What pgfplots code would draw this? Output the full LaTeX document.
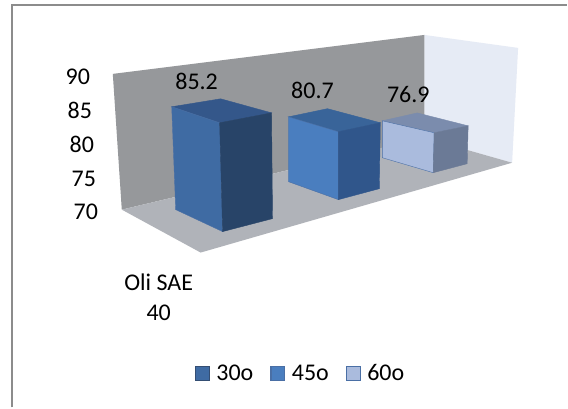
\documentclass[border=0pt]{standalone}
\usepackage{pgfplots}
\pgfplotsset{compat=1.18}
\usepackage{fontspec}
\setmainfont{Carlito}

\definecolor{wallback}{HTML}{96989B}
\definecolor{wallside}{HTML}{E6EBF5}
\definecolor{floorc}{HTML}{B0B3B9}
\definecolor{aF}{HTML}{3F6BA3}\definecolor{aS}{HTML}{284468}\definecolor{aT}{HTML}{34578A}
\definecolor{bF}{HTML}{4A7EBF}\definecolor{bS}{HTML}{30568B}\definecolor{bT}{HTML}{396499}
\definecolor{cF}{HTML}{AABBDD}\definecolor{cS}{HTML}{6B7A96}\definecolor{cT}{HTML}{7B8CAD}
\definecolor{edgec}{HTML}{4A6FA5}

% A footprint corner: floor position and its shift per value unit under the perspective
\newcommand\setcorner[5]{%
  \expandafter\def\csname #1bx\endcsname{#2}%
  \expandafter\def\csname #1by\endcsname{#3}%
  \pgfmathsetmacro\tmpx{#2+(\barval-70)*(#4)}\expandafter\let\csname #1tx\endcsname\tmpx
  \pgfmathsetmacro\tmpy{#3+(\barval-70)*(#5)}\expandafter\let\csname #1ty\endcsname\tmpy
}
% Three visible faces of a bar whose height is \barval
\newcommand\barfaces[3]{%
  \addplot[fill=#3,draw=#3,line width=0.4pt,forget plot] coordinates
    {(\Ltx,\Lty) (\Ftx,\Fty) (\Rtx,\Rty) (\Btx,\Bty)} -- cycle;
  \addplot[fill=#1,draw=edgec,line width=0.4pt,forget plot] coordinates
    {(\Lbx,\Lby) (\Fbx,\Fby) (\Ftx,\Fty) (\Ltx,\Lty)} -- cycle;
  \addplot[fill=#2,draw=#2,line width=0.4pt,forget plot] coordinates
    {(\Fbx,\Fby) (\Rbx,\Rby) (\Rtx,\Rty) (\Ftx,\Fty)} -- cycle;
}
\pgfplotsset{
  swatch/.style n args={2}{legend image code/.code={
    \path[draw=none,fill=none] (0pt,0pt) -- (19pt,0pt);
    \draw[fill=#1,draw=#2,line width=1.2pt] (0pt,-7pt) rectangle (14pt,7pt);}}
}

\begin{document}
\begin{tikzpicture}
\begin{axis}[
  scale only axis, width=568pt, height=408pt,
  xmin=0, xmax=568, ymin=0, ymax=408, y dir=reverse,
  hide axis, clip=false,
  legend style={at={(axis cs:192,374)}, anchor=west, draw=none, fill=none,
    font=\fontsize{24}{29}\selectfont, column sep=0pt,
    /tikz/every even column/.append style={column sep=15pt},
    nodes={inner sep=2pt}},
  legend columns=3,
]
% Page background and chart frame
\addplot[fill=white,draw=none,forget plot] coordinates {(0,0) (568,0) (568,408) (0,408)} -- cycle;
\addplot[draw=black!45,line width=2pt,forget plot] coordinates {(12,408) (12,5.5) (568,5.5)};
% Walls and floor
\addplot[fill=wallside,draw=none,forget plot] coordinates {(425,35) (519,48) (513,163) (425,138)} -- cycle;
\addplot[fill=wallback,draw=none,forget plot] coordinates {(113,74) (425,35) (425,138) (122,210)} -- cycle;
\addplot[fill=floorc,draw=none,forget plot] coordinates {(122,210) (425,138) (513,163) (201,253)} -- cycle;

% 60 degrees
\def\barval{76.9}
\setcorner{L}{383}{158}{0}{-5.36}\setcorner{F}{434}{173}{0.14}{-5.8}
\setcorner{R}{468}{164}{0.14}{-5.5}\setcorner{B}{418}{149}{0}{-5.2}
\barfaces{cF}{cS}{cT}
% 45 degrees
\def\barval{80.7}
\setcorner{L}{289}{182}{0}{-6.07}\setcorner{F}{339}{200}{0}{-6.36}
\setcorner{R}{380}{189}{0.09}{-6.17}\setcorner{B}{328}{172}{0}{-5.9}
\barfaces{bF}{bS}{bT}
% 30 degrees
\def\barval{85.2}
\setcorner{L}{176}{210}{-0.263}{-6.78}\setcorner{F}{223}{232}{-0.197}{-7.17}
\setcorner{R}{273}{219}{-0.066}{-6.97}\setcorner{B}{223}{199}{-0.13}{-6.58}
\barfaces{aF}{aS}{aT}

% Legend entries
\addlegendimage{swatch={aF}{edgec!70!black}}\addlegendentry{30o}
\addlegendimage{swatch={bF}{edgec}}\addlegendentry{45o}
\addlegendimage{swatch={cF}{edgec}}\addlegendentry{60o}

% Value axis numbers and value labels
\begin{scope}[every node/.style={font=\fontsize{24}{29}\selectfont,inner sep=0pt,text=black}]
\node at (axis cs:78,77) {90};
\node at (axis cs:80,111) {85};
\node at (axis cs:82,145) {80};
\node at (axis cs:84,179) {75};
\node at (axis cs:86,212) {70};
\node at (axis cs:197,82) {85.2};
\node at (axis cs:313,91) {80.7};
\node at (axis cs:409,95) {76.9};
\node at (axis cs:159,283) {Oli SAE};
\node at (axis cs:159,313) {40};
\end{scope}
\end{axis}
\end{tikzpicture}
\end{document}
